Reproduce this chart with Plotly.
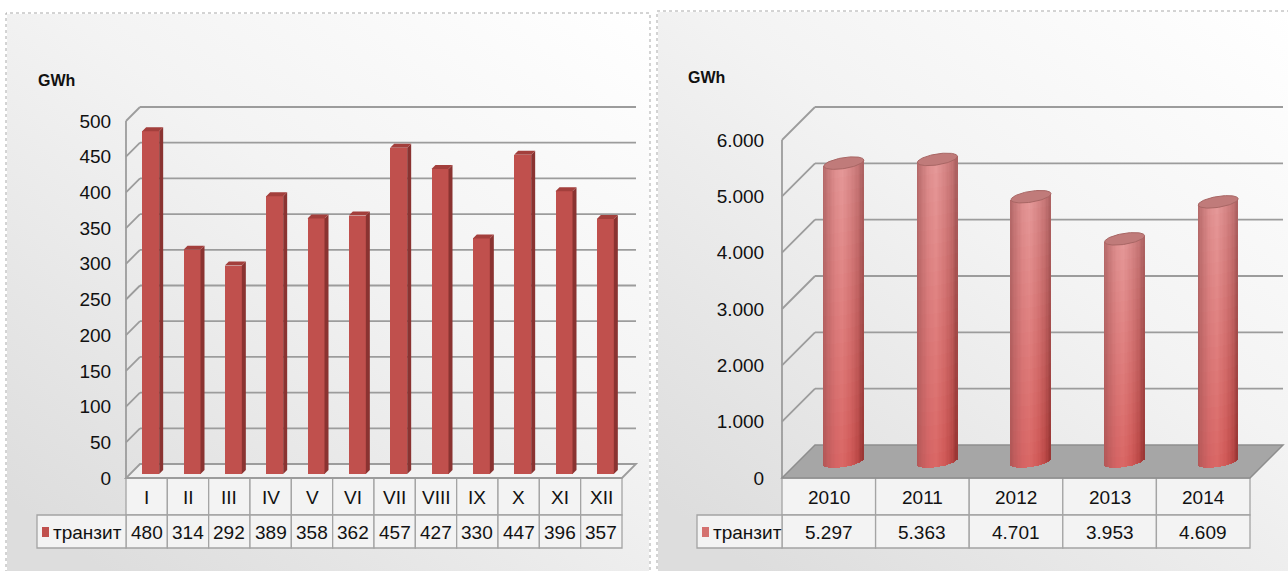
import base64
import numpy as np
import plotly.graph_objects as go

# ---- data -------------------------------------------------------------
months = ["I", "II", "III", "IV", "V", "VI", "VII", "VIII", "IX", "X", "XI", "XII"]
monthly_transit = [480, 314, 292, 389, 358, 362, 457, 427, 330, 447, 396, 357]
monthly_ticks = [0, 50, 100, 150, 200, 250, 300, 350, 400, 450, 500]

years = ["2010", "2011", "2012", "2013", "2014"]
yearly_transit = [5297, 5363, 4701, 3953, 4609]
yearly_ticks = [0, 1000, 2000, 3000, 4000, 5000, 6000]

series_name = "транзит"
unit_label = "GWh"


def dotted(v):
    return f"{v:,}".replace(",", ".")


# ---- page geometry (pixels) -------------------------------------------
W, H = 1288, 571


def fx(p):
    return p / W


def fy(p):
    return 1 - p / H


FONT = "Liberation Sans, Arial, sans-serif"
FS = 19
TXT = "#111111"
GRID = "#9c9c9c"
ROW_TOP, ROW_MID, ROW_BOT = 478, 515, 548
DOM_TOP, DOM_BOT = 60, 560

# left chart: front plane mapping
LX0, LX1, LY0, LK = 126, 622, 478, 357 / 500
L_DOM = (122, 650)
lu = len(months) / (LX1 - LX0)
L_DEPTH = 14
# right chart
RX0, RX1, RY0, RK = 782, 1250, 478, 338 / 6000
R_DOM = (778, 1288)
ru = len(years) / (RX1 - RX0)
R_DEPTH = 33

shapes, annotations, traces = [], [], []


def line(x0, y0, x1, y1, xr, yr, color=GRID, width=1.8):
    shapes.append(dict(type="line", x0=x0, y0=y0, x1=x1, y1=y1, xref=xr, yref=yr,
                       line=dict(color=color, width=width), layer="below"))


def grad_uri(w, h):
    svg = (f'<svg xmlns="http://www.w3.org/2000/svg" width="{w}" height="{h}">'
           '<defs><linearGradient id="g" x1="1" y1="0" x2="0.15" y2="1">'
           '<stop offset="0" stop-color="#ffffff"/>'
           '<stop offset="0.45" stop-color="#f3f3f3"/>'
           '<stop offset="1" stop-color="#dddddd"/>'
           '</linearGradient></defs>'
           f'<rect width="{w}" height="{h}" fill="url(#g)"/></svg>')
    return "data:image/svg+xml;base64," + base64.b64encode(svg.encode()).decode()


images = [
    dict(source=grad_uri(642, 557), xref="paper", yref="paper", x=fx(7), y=fy(14),
         sizex=fx(649) - fx(7), sizey=(571 - 14) / H, xanchor="left", yanchor="top",
         sizing="stretch", layer="below"),
    dict(source=grad_uri(631, 560), xref="paper", yref="paper", x=fx(658), y=fy(12),
         sizex=fx(1288) - fx(658), sizey=(571 - 12) / H, xanchor="left", yanchor="top",
         sizing="stretch", layer="below"),
]

# dashed panel frames
for x0, x1, y1 in [(6, 650, 13), (657, 1295, 11)]:
    shapes.append(dict(type="rect", xref="paper", yref="paper", x0=fx(x0), x1=fx(x1),
                       y0=fy(580), y1=fy(y1), line=dict(color="#a8a8a8", width=1, dash="dot"),
                       layer="below"))

# ---- left chart: walls --------------------------------------------------
ldx, ldy = L_DEPTH * lu, L_DEPTH / LK
nL = len(months)
for v in monthly_ticks[1:]:
    line(-0.5, v, -0.5 + ldx, v + ldy, "x", "y")
    line(-0.5 + ldx, v + ldy, nL - 0.5 + ldx, v + ldy, "x", "y")
shapes.append(dict(type="path", xref="x", yref="y", layer="below",
                   path=(f"M{-0.5},0 L{nL - 0.5},0 L{nL - 0.5 + ldx},{ldy} "
                         f"L{-0.5 + ldx},{ldy} Z"),
                   fillcolor="rgba(245,245,245,0.7)", line=dict(color=GRID, width=1.8)))
line(-0.5, 0, -0.5, monthly_ticks[-1], "x", "y")

# ---- left chart: 3-D columns -------------------------------------------
bw = 17 * lu
off_x, off_y = 4 * lu, 4 / LK
sd_x, sd_y = 4 * lu, 4 / LK
sx, sy, tx, ty = [], [], [], []
for i, v in enumerate(monthly_transit):
    xl = i + off_x - bw / 2
    xr = i + off_x + bw / 2
    b = off_y
    sx += [xr, xr + sd_x, xr + sd_x, xr, xr, None]
    sy += [b, b + sd_y, b + v + sd_y, b + v, b, None]
    tx += [xl, xr, xr + sd_x, xl + sd_x, xl, None]
    ty += [b + v, b + v, b + v + sd_y, b + v + sd_y, b + v, None]
traces.append(go.Scatter(x=sx, y=sy, mode="lines", fill="toself", fillcolor="#8a3331",
                         line=dict(width=0, color="#8a3331"), xaxis="x", yaxis="y",
                         hoverinfo="skip"))
traces.append(go.Scatter(x=tx, y=ty, mode="lines", fill="toself", fillcolor="#a33f3c",
                         line=dict(width=0, color="#a33f3c"), xaxis="x", yaxis="y",
                         hoverinfo="skip"))
traces.append(go.Bar(x=[i + off_x for i in range(nL)], y=monthly_transit, base=off_y,
                     width=bw, marker=dict(color="#c0504d", line=dict(width=0)),
                     xaxis="x", yaxis="y", name=series_name, hoverinfo="skip"))

# ---- right chart: walls and floor --------------------------------------
rdx, rdy = R_DEPTH * ru, R_DEPTH / RK
nR = len(years)
for v in yearly_ticks[1:]:
    line(-0.5, v, -0.5 + rdx, v + rdy, "x2", "y2")
    line(-0.5 + rdx, v + rdy, nR - 0.5 + rdx, v + rdy, "x2", "y2")
line(-0.5, 0, -0.5, yearly_ticks[-1], "x2", "y2")
shapes.append(dict(type="path", xref="x2", yref="y2", layer="below",
                   path=(f"M{-0.5},0 L{nR - 0.5},0 L{nR - 0.5 + rdx},{rdy} "
                         f"L{-0.5 + rdx},{rdy} Z"),
                   fillcolor="#a6a6a6", line=dict(color="#8e8e8e", width=1.5)))

# ---- right chart: shaded cylinders -------------------------------------
N_STRIPS, N_SEG = 30, 22
a_px, b_px, tilt_px = 20, 5.5, 3
stops_t = [0.0, 0.1, 0.3, 0.48, 0.7, 0.88, 1.0]
top_cols = np.array([[178, 104, 104], [196, 118, 118], [222, 142, 142], [229, 152, 152],
                     [214, 134, 134], [196, 116, 116], [170, 96, 96]], float)
bot_cols = np.array([[176, 86, 86], [192, 92, 92], [212, 100, 100], [218, 104, 102],
                     [208, 90, 88], [186, 72, 70], [150, 52, 50]], float)


def shade(t, s):
    c_top = np.array([np.interp(t, stops_t, top_cols[:, k]) for k in range(3)])
    c_bot = np.array([np.interp(t, stops_t, bot_cols[:, k]) for k in range(3)])
    c = c_bot + (c_top - c_bot) * s
    return "rgb(%d,%d,%d)" % tuple(np.round(c))


cx_off = 15 * ru
base_c = (R_DEPTH / 2) / RK
b_u = b_px / RK
tilt_u = tilt_px / RK
strip_w = 2 * a_px * ru / N_STRIPS
ovl = 1.0 / RK
bx, bbase, bh, bcol = [], [], [], []
cap_x, cap_y = [], []
theta = np.linspace(0, 2 * np.pi, 90)
for j, v in enumerate(yearly_transit):
    xc = j + cx_off
    top = base_c + v
    for k in range(N_STRIPS):
        u = -1 + (2 * k + 1) / N_STRIPS
        t = (u + 1) / 2
        bottom = base_c - b_u * np.sqrt(max(0.0, 1 - u * u)) + tilt_u * u
        seg_top = top + tilt_u * u
        for s in range(N_SEG):
            seg0 = bottom if s == 0 else bottom + (seg_top - bottom) * s / N_SEG
            seg1 = bottom + (seg_top - bottom) * (s + 1) / N_SEG
            if s < N_SEG - 1:
                seg1 += ovl
            bx.append(xc + u * a_px * ru)
            bbase.append(seg0)
            bh.append(seg1 - seg0)
            bcol.append(shade(t, s / (N_SEG - 1)))
    cap_x += list(xc + a_px * ru * np.cos(theta)) + [None]
    cap_y += list(top + b_u * np.sin(theta) + tilt_u * np.cos(theta)) + [None]

traces.append(go.Bar(x=bx, y=bh, base=bbase, width=strip_w * 1.3,
                     marker=dict(color=bcol, line=dict(width=0)),
                     xaxis="x2", yaxis="y2", hoverinfo="skip"))
traces.append(go.Scatter(x=cap_x, y=cap_y, mode="lines", fill="toself",
                         fillcolor="#c07b7a", line=dict(color="#a86664", width=1),
                         xaxis="x2", yaxis="y2", hoverinfo="skip"))

# ---- data tables under the charts --------------------------------------
CELL_FILL, CELL_LINE = "#f3f3f3", "#a4a4a4"


def cell(x0, x1, y0, y1, xr):
    shapes.append(dict(type="rect", xref=xr, yref="paper", x0=x0, x1=x1,
                       y0=fy(y1), y1=fy(y0), fillcolor=CELL_FILL,
                       line=dict(color=CELL_LINE, width=1.3), layer="below"))


def text(x, y, s, xr, size=FS, anchor="center"):
    annotations.append(dict(x=x, y=fy(y), xref=xr, yref="paper", text=s, showarrow=False,
                            xanchor=anchor, yanchor="middle",
                            font=dict(family=FONT, size=size, color=TXT)))


for i, (m, v) in enumerate(zip(months, monthly_transit)):
    cell(i - 0.5, i + 0.5, ROW_TOP, ROW_MID, "x")
    cell(i - 0.5, i + 0.5, ROW_MID, ROW_BOT, "x")
    text(i, (ROW_TOP + ROW_MID) / 2 + 1, m, "x")
    text(i, (ROW_MID + ROW_BOT) / 2 + 1, str(v), "x")
for j, (yname, v) in enumerate(zip(years, yearly_transit)):
    cell(j - 0.5, j + 0.5, ROW_TOP, ROW_MID, "x2")
    cell(j - 0.5, j + 0.5, ROW_MID, ROW_BOT, "x2")
    text(j, (ROW_TOP + ROW_MID) / 2 + 1, yname, "x2")
    text(j, (ROW_MID + ROW_BOT) / 2 + 1, dotted(v), "x2")

# legend cells
for x0, x1, col in [(37, LX0, "#c0504d"), (697, RX0, "#d4716f")]:
    cell(fx(x0), fx(x1), ROW_MID, ROW_BOT, "paper")
    shapes.append(dict(type="rect", xref="paper", yref="paper", x0=fx(x0 + 5), x1=fx(x0 + 12),
                       y0=fy(537), y1=fy(527), fillcolor=col, line=dict(width=0)))
    text(fx(x0 + 14), (ROW_MID + ROW_BOT) / 2 + 1, series_name, "paper", anchor="left")

# unit labels
for x, y in [(36, 81), (686, 78)]:
    annotations.append(dict(x=fx(x), y=fy(y), xref="paper", yref="paper",
                            text=f"<b>{unit_label}</b>",
                            showarrow=False, xanchor="left", yanchor="middle",
                            font=dict(family=FONT, size=16, color=TXT)))


# ---- axes -----------------------------------------------------------------
def xrange(x0px, x1px, dom, n, u):
    return [-0.5 - (x0px - dom[0]) * u, n - 0.5 + (dom[1] - x1px) * u]


axis_common = dict(showgrid=False, zeroline=False, showline=False, fixedrange=True)
fig = go.Figure(traces)
fig.update_layout(
    width=W, height=H, margin=dict(l=0, r=0, t=0, b=0),
    paper_bgcolor="white", plot_bgcolor="rgba(0,0,0,0)",
    showlegend=False, hovermode=False, barmode="overlay", bargap=0,
    images=images, shapes=shapes, annotations=annotations,
    xaxis=dict(domain=[fx(L_DOM[0]), fx(L_DOM[1])], range=xrange(LX0, LX1, L_DOM, nL, lu),
               showticklabels=False, ticks="", anchor="y", **axis_common),
    yaxis=dict(domain=[fy(DOM_BOT), fy(DOM_TOP)],
               range=[(LY0 - DOM_BOT) / LK, (LY0 - DOM_TOP) / LK],
               tickvals=monthly_ticks, ticktext=[str(t) for t in monthly_ticks],
               ticks="outside", ticklen=6, tickcolor="rgba(0,0,0,0)", anchor="x",
               tickfont=dict(family=FONT, size=FS, color=TXT), **axis_common),
    xaxis2=dict(domain=[fx(R_DOM[0]), fx(R_DOM[1])], range=xrange(RX0, RX1, R_DOM, nR, ru),
                showticklabels=False, ticks="", anchor="y2", **axis_common),
    yaxis2=dict(domain=[fy(DOM_BOT), fy(DOM_TOP)],
                range=[(RY0 - DOM_BOT) / RK, (RY0 - DOM_TOP) / RK],
                tickvals=yearly_ticks, ticktext=[dotted(t) for t in yearly_ticks],
                ticks="outside", ticklen=9, tickcolor="rgba(0,0,0,0)", anchor="x2",
                tickfont=dict(family=FONT, size=FS, color=TXT), **axis_common),
)

fig.write_html("out.html")
